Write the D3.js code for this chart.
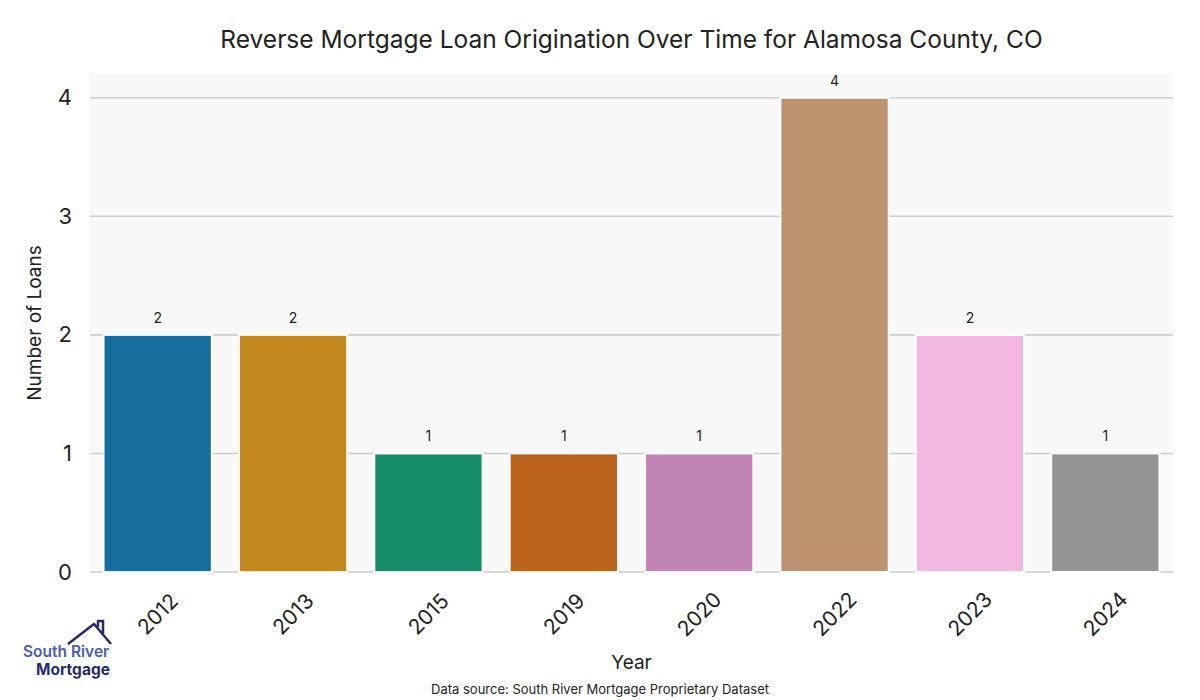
<!DOCTYPE html>
<html><head><meta charset="utf-8">
<script src="https://cdn.jsdelivr.net/npm/d3@7"></script>
<style>body{margin:0;background:#fff;} text{font-family:Inter, "Noto Sans", sans-serif;}</style>
</head><body>
<svg id="c" width="1200" height="700"></svg>
<script>
const years = ["2012","2013","2015","2019","2020","2022","2023","2024"];
const loans = [2,2,1,1,1,4,2,1];
const palette = ["#0173b2","#de8f05","#029e73","#d55e00","#cc78bc","#ca9161","#fbafe4","#949494"];
const yTicks = [0,1,2,3,4];
const titleText = "Reverse Mortgage Loan Origination Over Time for Alamosa County, CO";
const sourceText = "Data source: South River Mortgage Proprietary Dataset";

const svg = d3.select("#c");
const m = {l:90, r:1173, t:74, b:572};
const x = d3.scaleBand().domain(years).range([m.l, m.r]).paddingInner(0.2).paddingOuter(0.1);
const y = d3.scaleLinear().domain([0, 4.2]).range([m.b, m.t]);
const color = d3.scaleOrdinal().domain(years).range(palette.map(c => {const h=d3.hsl(c); h.s*=0.75; return h.formatHex();}));

svg.append("rect").attr("x", m.l).attr("y", m.t).attr("width", m.r-m.l).attr("height", m.b-m.t).attr("fill", "#f8f8f8");

// gridlines
svg.append("g").selectAll("line").data(yTicks).join("line")
  .attr("x1", m.l).attr("x2", m.r).attr("y1", d=>y(d)).attr("y2", d=>y(d))
  .attr("stroke", "#cccccc").attr("stroke-width", 1.6);

// y axis labels
const yAxis = d3.axisLeft(y).tickValues(yTicks).tickSize(0).tickPadding(18).tickFormat(d3.format("d"));
const gy = svg.append("g").attr("transform", `translate(${m.l},0)`).call(yAxis);
gy.select(".domain").remove();
gy.selectAll("text").attr("font-size", 22).attr("fill", "#222").style("font-family","Inter, sans-serif");

// bars
svg.append("g").selectAll("rect").data(years).join("rect")
  .attr("x", d=>x(d)).attr("width", x.bandwidth())
  .attr("y", (d,i)=>y(loans[i])).attr("height", (d,i)=>y(0)-y(loans[i]))
  .attr("fill", d=>color(d)).attr("stroke", "#ffffff").attr("stroke-width", 2);

// bar value labels
svg.append("g").selectAll("text").data(years).join("text")
  .attr("x", d=>x(d)+x.bandwidth()/2).attr("y", (d,i)=>y(loans[i])-12)
  .attr("text-anchor", "middle").attr("font-size", 14).attr("fill", "#222")
  .text((d,i)=>loans[i]);

// x axis labels
const xAxis = d3.axisBottom(x).tickSize(0).tickPadding(0);
const gx = svg.append("g").attr("transform", `translate(0,${m.b})`).call(xAxis);
gx.select(".domain").remove();
gx.selectAll("text").attr("font-size", 21).attr("fill", "#222")
  .attr("text-anchor", "middle").attr("dy", "0.35em").attr("y", 0)
  .attr("transform", "translate(0,42) rotate(-45)").style("font-family","Inter, sans-serif");

// title & axis titles
svg.append("text").attr("x", (m.l+m.r)/2).attr("y", 48).attr("text-anchor","middle")
  .attr("font-size", 24.5).attr("fill", "#222").text(titleText);
svg.append("text").attr("transform", `translate(41,${(m.t+m.b)/2}) rotate(-90)`).attr("text-anchor","middle")
  .attr("font-size", 19).attr("fill", "#222").text("Number of Loans");
svg.append("text").attr("x", (m.l+m.r)/2).attr("y", 669).attr("text-anchor","middle")
  .attr("font-size", 19).attr("fill", "#222").text("Year");
svg.append("text").attr("x", 600).attr("y", 694).attr("text-anchor","middle")
  .attr("font-size", 13).attr("fill", "#222").text(sourceText);

// logo
const logo = svg.append("g");
logo.append("path").attr("d", "M68,644 L94,624 L111,644 M98,627 L98,621 L103,621 L103,634")
  .attr("fill","none").attr("stroke","#262d66").attr("stroke-width",2.5).attr("stroke-linejoin","miter");
logo.append("text").attr("x", 23).attr("y", 657).attr("font-size", 15.5).attr("font-weight", 600)
  .attr("fill", "#4a5db0").text("South River");
logo.append("text").attr("x", 36).attr("y", 675).attr("font-size", 15.5).attr("font-weight", 700)
  .attr("fill", "#262d66").text("Mortgage");
</script>
</body></html>
